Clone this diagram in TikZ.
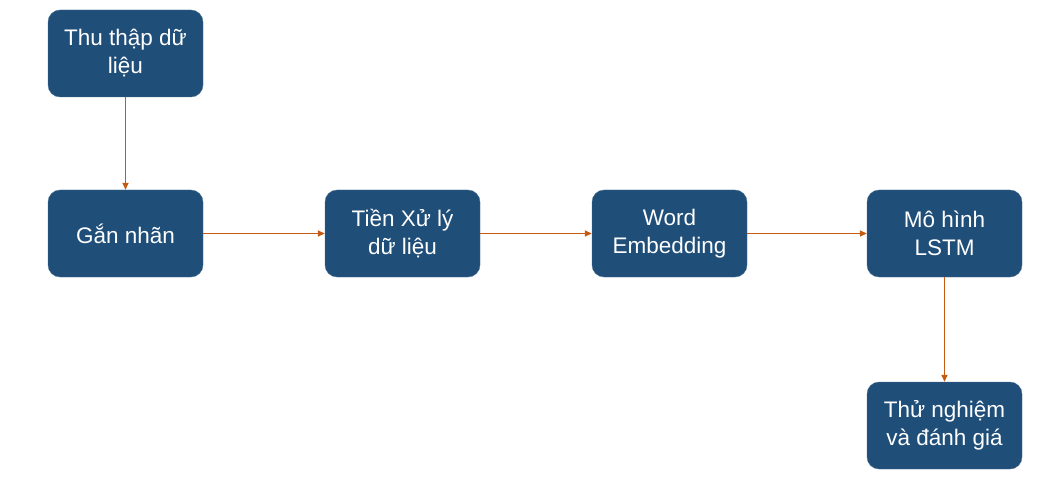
\documentclass[tikz,border=0pt]{standalone}
\usepackage{fontspec}
\setmainfont{Liberation Sans}
\usetikzlibrary{arrows.meta}
\definecolor{boxblue}{HTML}{1F4E79}
\definecolor{linkorange}{HTML}{C55A11}
\begin{document}
\begin{tikzpicture}[x=1pt, y=-1pt,
	stage/.style={draw=boxblue!80!white, fill=boxblue, rounded corners=12pt, minimum width=155pt, minimum height=87pt, inner sep=0pt, align=center, text=white, font=\fontsize{22.5}{28}\selectfont},
	link/.style={draw=linkorange, line width=1.5pt, -{Triangle[length=7pt, width=6pt]}}]
	\useasboundingbox (0,0) rectangle (1048,478);
	\node[stage] (Thu thap) at (125.5, 53.5) {Thu thập dữ\\liệu};
	\node[stage] (Gan nhan) at (125.5, 233.5) {Gắn nhãn};
	\node[stage] (Tien xu ly) at (402.5, 233.5) {Tiền Xử lý\\dữ liệu};
	\node[stage] (Word Embedding) at (669.5, 233.5) {Word\\Embedding};
	\node[stage] (LSTM) at (944.5, 233.5) {Mô hình\\LSTM};
	\node[stage] (Danh gia) at (944.5, 425.5) {Thử nghiệm\\và đánh giá};
	\draw[link] (Thu thap) -- (Gan nhan);
	\draw[link] (Gan nhan) -- (Tien xu ly);
	\draw[link] (Tien xu ly) -- (Word Embedding);
	\draw[link] (Word Embedding) -- (LSTM);
	\draw[link] (LSTM) -- (Danh gia);
\end{tikzpicture}
\end{document}
